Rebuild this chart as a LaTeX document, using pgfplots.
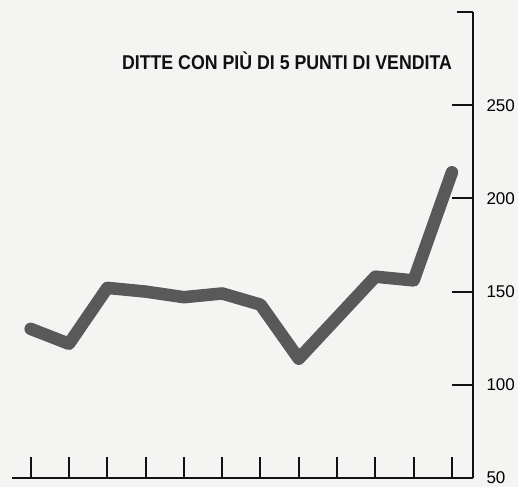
\documentclass[border=0pt]{standalone}
\usepackage{fontspec}
\setmainfont{Liberation Sans}
\usepackage{pgfplots}
\pgfplotsset{compat=1.18}
\definecolor{paper}{HTML}{F4F4F2}
\definecolor{ink}{HTML}{111111}
\definecolor{trace}{HTML}{595959}
\begin{document}
\begin{tikzpicture}[x=1pt,y=1pt]
\path[use as bounding box, fill=paper] (0,0) rectangle (518,487);
\begin{axis}[at={(12pt,9pt)}, anchor=south west, scale only axis,
 width=461pt, height=466pt,
 xmin=-0.488, xmax=11.55, ymin=50, ymax=300,
 axis x line*=bottom, axis y line*=right,
 axis line style={ink, line width=2pt, -},
 xtick={0,...,11}, xticklabels={},
 ytick={50,100,...,250},
 extra y ticks={300}, extra y tick labels={},
 extra y tick style={major tick length=16pt},
 tick align=inside, major tick length=21pt,
 tick style={ink, line width=2pt},
 yticklabel style={font=\fontsize{17}{17}\selectfont, anchor=west, xshift=10pt},
 /pgf/number format/assume math mode=true, clip=false]
\addplot[trace, line width=12.5pt, line join=round, line cap=round, mark=none]
 coordinates {(0,130) (1,122) (2,152) (3,150) (4,147) (5,149) (6,143)
 (7,114) (8,136) (9,158) (10,156) (11,214)};
\end{axis}
\node[font=\fontsize{20}{20}\selectfont\bfseries, text=ink] at (287,426)
 {\resizebox{330pt}{\height}{DITTE CON PIÙ DI 5 PUNTI DI VENDITA}};
\end{tikzpicture}
\end{document}
